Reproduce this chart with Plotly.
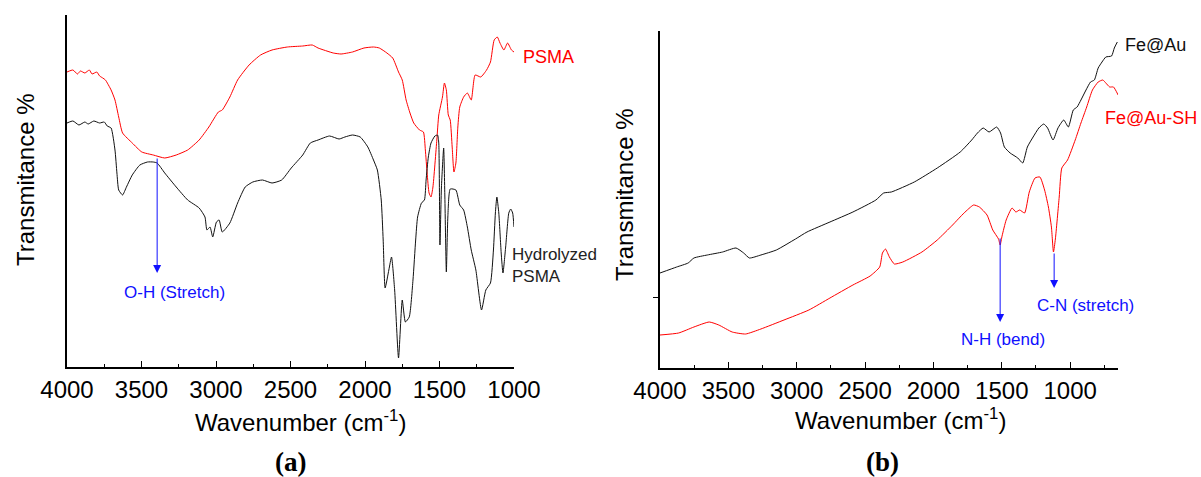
import plotly.graph_objects as go

# ---------------- Data ----------------
# Panel (a): PSMA (red) and Hydrolyzed PSMA (black); transmittance in arbitrary units
PSMA_WN = [4000, 3960, 3930, 3910, 3880, 3850, 3832, 3800, 3781, 3760,
           3742, 3704, 3678, 3653, 3627, 3562, 3498, 3421, 3344, 3267,
           3190, 3113, 3048, 2984, 2958, 2907, 2855, 2778, 2701, 2624,
           2521, 2418, 2354, 2315, 2213, 2161, 2084, 2007, 1943, 1904,
           1853, 1814, 1775, 1750, 1724, 1698, 1673, 1634, 1608, 1595,
           1583, 1570, 1557, 1544, 1518, 1505, 1480, 1467, 1454, 1441,
           1428, 1415, 1403, 1390, 1377, 1364, 1338, 1313, 1287, 1261,
           1223, 1184, 1158, 1133, 1112, 1094, 1068, 1043, 1017, 1000]
PSMA_T = [295, 297, 293, 296, 294, 297, 293, 295, 291, 289,
          287, 277, 267, 250, 234, 224, 215, 212, 209, 212,
          217, 227, 240, 255, 257, 270, 287, 302, 312, 317,
          320, 321, 322, 319, 314, 313, 315, 319, 320, 319,
          314, 309, 295, 287, 267, 254, 244, 237, 235, 217,
          194, 174, 170, 180, 227, 252, 270, 284, 277, 252,
          247, 220, 195, 204, 240, 260, 270, 274, 267, 292,
          290, 297, 305, 327, 330, 324, 317, 324, 317, 315]

HPSMA_WN = [4000, 3960, 3920, 3880, 3858, 3820, 3781, 3750, 3730, 3704,
            3678, 3665, 3653, 3627, 3601, 3562, 3511, 3460, 3421, 3395,
            3344, 3267, 3190, 3113, 3074, 3061, 3040, 3022, 2997, 2979,
            2958, 2907, 2855, 2804, 2753, 2688, 2624, 2559, 2495, 2418,
            2367, 2315, 2238, 2174, 2135, 2084, 2032, 1981, 1943, 1917,
            1891, 1878, 1865, 1840, 1822, 1801, 1775, 1750, 1729, 1703,
            1678, 1660, 1647, 1621, 1601, 1590, 1575, 1557, 1531, 1513,
            1505, 1497, 1487, 1472, 1464, 1454, 1444, 1428, 1390, 1364,
            1338, 1313, 1287, 1256, 1218, 1189, 1158, 1138, 1125, 1115,
            1102, 1086, 1074, 1056, 1035, 1022, 1009, 1000]
HPSMA_T = [244, 246, 242, 245, 243, 246, 244, 245, 241, 239,
           217, 194, 177, 172, 180, 192, 202, 205, 205, 204,
           194, 180, 167, 159, 150, 137, 140, 130, 145, 147,
           135, 144, 164, 180, 185, 187, 184, 187, 199, 212,
           224, 227, 231, 228, 230, 232, 230, 220, 207, 197,
           167, 127, 79, 97, 110, 77, 9, 67, 45, 50,
           87, 127, 150, 164, 167, 187, 210, 224, 231, 232,
           224, 122, 180, 219, 170, 95, 150, 178, 177, 162,
           157, 140, 117, 97, 57, 77, 84, 117, 154, 170,
           154, 114, 94, 120, 154, 158, 154, 140]

# Panel (b): Fe@Au (black) and Fe@Au-SH (red)
FEAU_WN = [4000, 3878, 3794, 3752, 3654, 3542, 3444, 3388, 3346, 3262,
           3149, 3009, 2925, 2757, 2589, 2421, 2364, 2308, 2140, 1972,
           1804, 1720, 1678, 1636, 1593, 1537, 1509, 1481, 1439, 1383,
           1347, 1313, 1271, 1229, 1193, 1165, 1125, 1089, 1047, 1013,
           977, 949, 921, 884, 851, 823, 795, 767, 739, 697,
           677, 655]
FEAU_T = [95, 101, 105, 110, 113, 116, 120, 115, 110, 113,
          118, 129, 136, 146, 156, 168, 175, 176, 186, 200,
          216, 228, 235, 240, 236, 241, 235, 221, 215, 210,
          205, 221, 231, 240, 244, 240, 228, 240, 248, 241,
          258, 261, 268, 278, 286, 288, 300, 306, 311, 312,
          320, 326]

FEAUSH_WN = [4000, 3864, 3752, 3640, 3570, 3472, 3374, 3262, 3093, 2911,
             2757, 2589, 2463, 2393, 2373, 2351, 2322, 2286, 2224, 2084,
             1972, 1860, 1776, 1706, 1664, 1608, 1566, 1524, 1512, 1498,
             1468, 1425, 1397, 1369, 1333, 1299, 1257, 1221, 1187, 1159,
             1137, 1122, 1108, 1080, 1061, 1019, 963, 921, 879, 837,
             795, 761, 739, 711, 683, 649]
FEAUSH_T = [33, 35, 41, 46, 43, 36, 34, 39, 48, 58,
            70, 83, 92, 101, 115, 119, 111, 104, 106, 116,
            128, 143, 155, 163, 161, 153, 138, 129, 123, 132,
            148, 160, 156, 158, 155, 176, 190, 191, 178, 161,
            141, 116, 129, 171, 200, 208, 228, 245, 261, 278,
            286, 288, 285, 281, 281, 273]

# Peak annotations: (label, wavenumber, arrow start T, arrow end T)
PEAKS_A = [("O-H (Stretch)", 3395, 210, 94)]
PEAKS_B = [("N-H (bend)", 1512, 131, 46), ("C-N (stretch)", 1117, 116, 80)]

TICKS = [4000, 3500, 3000, 2500, 2000, 1500, 1000]
TICK_TEXT = [str(t) for t in TICKS]

# ---------------- Figure ----------------
FONT = "Arial, Liberation Sans, sans-serif"
W, H = 1201, 477

def px(x):
    return x / W

def py(y):
    return 1 - y / H

def curve(x, y, color, xa, ya):
    return go.Scatter(x=x, y=y, mode="lines", xaxis=xa, yaxis=ya,
                      line=dict(color=color, width=1, shape="spline", smoothing=0.5))

fig = go.Figure()
fig.add_trace(curve(PSMA_WN, PSMA_T, "#ff0000", "x", "y"))
fig.add_trace(curve(HPSMA_WN, HPSMA_T, "#111111", "x", "y"))
fig.add_trace(curve(FEAU_WN, FEAU_T, "#111111", "x2", "y2"))
fig.add_trace(curve(FEAUSH_WN, FEAUSH_T, "#ff0000", "x2", "y2"))

xcommon = dict(showline=True, linecolor="black", linewidth=1.5, showgrid=False,
               zeroline=False, automargin=False,
               ticks="inside", ticklen=6, tickwidth=1.2, tickcolor="black",
               tickvals=TICKS, ticktext=TICK_TEXT,
               tickfont=dict(family=FONT, size=24, color="black"),
               minor=dict(ticks="inside", ticklen=3, dtick=250, tick0=0,
                          tickcolor="black", tickwidth=1.2, showgrid=False))

fig.update_layout(
    template="none",
    width=W, height=H, margin=dict(l=0, r=0, t=0, b=0, pad=0, autoexpand=False),
    paper_bgcolor="white", plot_bgcolor="white", showlegend=False,
    xaxis=dict(domain=[px(67), px(514)], range=[4000, 1000], anchor="y", **xcommon),
    yaxis=dict(domain=[py(367), py(15)], range=[0, 352], anchor="x", automargin=False,
               showline=True, linecolor="black", linewidth=1.5, showgrid=False,
               zeroline=False, showticklabels=False, ticks=""),
    xaxis2=dict(domain=[px(660), px(1118)], range=[4000, 650], anchor="y2", **xcommon),
    yaxis2=dict(domain=[py(368), py(31)], range=[0, 337], anchor="x2", automargin=False,
                showline=True, linecolor="black", linewidth=1.5, showgrid=False,
                zeroline=False, showticklabels=False, ticks="outside", ticklen=5,
                tickcolor="black", tickwidth=1.2, tickvals=[71]),
)

ann = []

def label(text, x, y, size, color, xanchor="center", family=FONT, angle=0, align="center"):
    ann.append(dict(text=text, x=px(x), y=py(y), xref="paper", yref="paper",
                    xanchor=xanchor, yanchor="middle", align=align, textangle=angle,
                    showarrow=False, font=dict(family=family, size=size, color=color)))

# axis titles
label("Transmitance %", 25, 180, 24, "black", angle=-90)
label("Transmitance %", 624, 195, 24, "black", angle=-90)
label("Wavenumber (cm<sup>-1</sup>)", 300, 421, 24, "black")
label("Wavenumber (cm<sup>-1</sup>)", 900, 419, 24, "black")
label("<b>(a)</b>", 290, 462, 27, "black", family="Liberation Serif, Times New Roman, serif")
label("<b>(b)</b>", 883, 462, 27, "black", family="Liberation Serif, Times New Roman, serif")
# series labels
label("PSMA", 521, 57, 18, "#ff0000", xanchor="left")
label("Hydrolyzed<br>PSMA", 510, 265, 17, "#222222", xanchor="left", align="left")
label("Fe@Au", 1123, 45, 18, "#111111", xanchor="left")
label("Fe@Au-SH", 1103, 118, 18, "#ff0000", xanchor="left")

BLUE = "#1010ff"
# arrows
for (lab, wn, t0, t1), xa, ya in [(PEAKS_A[0], "x", "y"), (PEAKS_B[0], "x2", "y2"), (PEAKS_B[1], "x2", "y2")]:
    ann.append(dict(text="", x=wn, y=t1, ax=wn, ay=t0, xref=xa, yref=ya, axref=xa, ayref=ya,
                    showarrow=True, arrowhead=2, arrowsize=1.6, arrowwidth=1, arrowcolor=BLUE))
# arrow labels
label(PEAKS_A[0][0], 175, 292, 17, BLUE)
label(PEAKS_B[0][0], 1003, 339, 17, BLUE)
label(PEAKS_B[1][0], 1085, 305, 17, BLUE)

fig.update_layout(annotations=ann)
fig.write_html("out.html")
